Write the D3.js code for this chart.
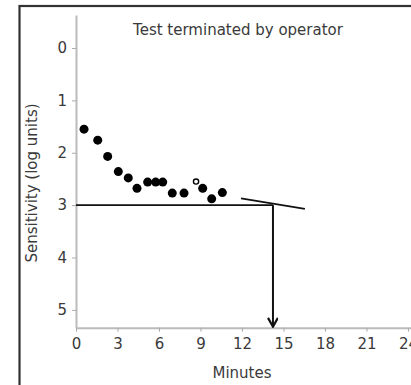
<!DOCTYPE html>
<html>
<head>
<meta charset="utf-8">
<script src="https://cdn.jsdelivr.net/npm/d3@7"></script>
<style>
  body { margin: 0; background: #fff; }
  text { font-family: "DejaVu Sans", sans-serif; fill: #3a3a3a; }
</style>
</head>
<body>
<svg id="drawing_region"></svg>
<script>
// measured thresholds (minutes, log units)
const minutes = [0.58, 1.57, 2.29, 3.06, 3.78, 4.41, 5.18, 5.76, 6.27, 6.96, 7.81, 9.16, 9.81, 10.58];
const sensitivity = [1.55, 1.76, 2.07, 2.36, 2.48, 2.68, 2.56, 2.56, 2.56, 2.77, 2.77, 2.68, 2.88, 2.76];
// the one open point
const openMinutes = [8.68];
const openSensitivity = [2.55];
// criterion line, fitted slope line and the crossing time
const criterion = 3;
const slopeMinutes = [11.93, 16.55];
const slopeSensitivity = [2.87, 3.07];
const crossMinute = 14.24;
const xTicks = [0, 3, 6, 9, 12, 15, 18, 21, 24];
const yTicks = [0, 1, 2, 3, 4, 5];

const width = 411, height = 385;
const svg = d3.select('#drawing_region')
    .attr('width', width)
    .attr('height', height);

// frame around the figure
svg.append('rect')
    .attr('x', 19.5).attr('y', 6)
    .attr('width', 420).attr('height', 400)
    .attr('fill', 'none')
    .attr('stroke', '#333')
    .attr('stroke-width', 2.2);

const xscale = d3.scaleLinear().domain([0, 24.22]).range([76, 411]);
const yscale = d3.scaleLinear().domain([-0.63, 5.34]).range([15, 327.7]);

const xaxis = d3.axisBottom(xscale).tickValues(xTicks).tickFormat(d3.format('d'))
    .tickSize(4).tickSizeOuter(0).tickPadding(7);
const yaxis = d3.axisLeft(yscale).tickValues(yTicks).tickFormat(d3.format('d'))
    .tickSize(4).tickSizeOuter(0).tickPadding(5);

const xg = svg.append('g')
    .attr('transform', `translate(0, ${yscale(5.34)})`)
    .call(xaxis);
const yg = svg.append('g')
    .attr('transform', `translate(${xscale(0)}, 0)`)
    .call(yaxis);

[xg, yg].forEach(g => {
    g.select('.domain').attr('stroke', '#bbb').attr('stroke-width', 2);
    g.selectAll('.tick line').attr('stroke', '#aaa');
    g.selectAll('.tick text')
        .attr('font-size', '15px')
        .attr('font-family', '"DejaVu Sans", sans-serif')
        .attr('fill', '#3a3a3a');
});

svg.append('text')
    .attr('x', 238).attr('y', 35)
    .attr('text-anchor', 'middle')
    .attr('font-size', '15px')
    .text('Test terminated by operator');

svg.append('text')
    .attr('x', 242).attr('y', 378)
    .attr('text-anchor', 'middle')
    .attr('font-size', '15px')
    .text('Minutes');

svg.append('text')
    .attr('transform', `translate(37, 183) rotate(-90)`)
    .attr('text-anchor', 'middle')
    .attr('font-size', '15px')
    .text('Sensitivity (log units)');

// criterion line
svg.append('line')
    .attr('x1', xscale(0)).attr('x2', xscale(crossMinute))
    .attr('y1', yscale(criterion)).attr('y2', yscale(criterion))
    .attr('stroke', '#111').attr('stroke-width', 1.8);

// slope line
const line = d3.line()
    .x(d => xscale(d[0]))
    .y(d => yscale(d[1]));
svg.append('path')
    .attr('d', line(d3.zip(slopeMinutes, slopeSensitivity)))
    .attr('stroke', '#111').attr('stroke-width', 1.8)
    .attr('fill', 'none');

// arrow down to the crossing time
svg.append('defs').append('marker')
    .attr('id', 'arrow')
    .attr('viewBox', '0 0 10 10')
    .attr('refX', 9).attr('refY', 5)
    .attr('markerWidth', 11).attr('markerHeight', 11)
    .attr('markerUnits', 'userSpaceOnUse')
    .attr('orient', 'auto')
    .append('path')
    .attr('d', 'M1,0.5 L9,5 L1,9.5')
    .attr('fill', 'none')
    .attr('stroke', '#111')
    .attr('stroke-width', 2);

svg.append('line')
    .attr('x1', xscale(crossMinute)).attr('x2', xscale(crossMinute))
    .attr('y1', yscale(criterion)).attr('y2', yscale(5.34) - 1)
    .attr('stroke', '#111').attr('stroke-width', 2)
    .attr('marker-end', 'url(#arrow)');

// filled points
svg.append('g')
    .selectAll('circle')
    .data(d3.zip(minutes, sensitivity))
    .join('circle')
    .attr('cx', d => xscale(d[0]))
    .attr('cy', d => yscale(d[1]))
    .attr('r', 4.5)
    .attr('fill', '#000');

// open point
svg.append('g')
    .selectAll('circle')
    .data(d3.zip(openMinutes, openSensitivity))
    .join('circle')
    .attr('cx', d => xscale(d[0]))
    .attr('cy', d => yscale(d[1]))
    .attr('r', 2.6)
    .attr('fill', '#fff')
    .attr('stroke', '#000')
    .attr('stroke-width', 1.4);
</script>
</body>
</html>
